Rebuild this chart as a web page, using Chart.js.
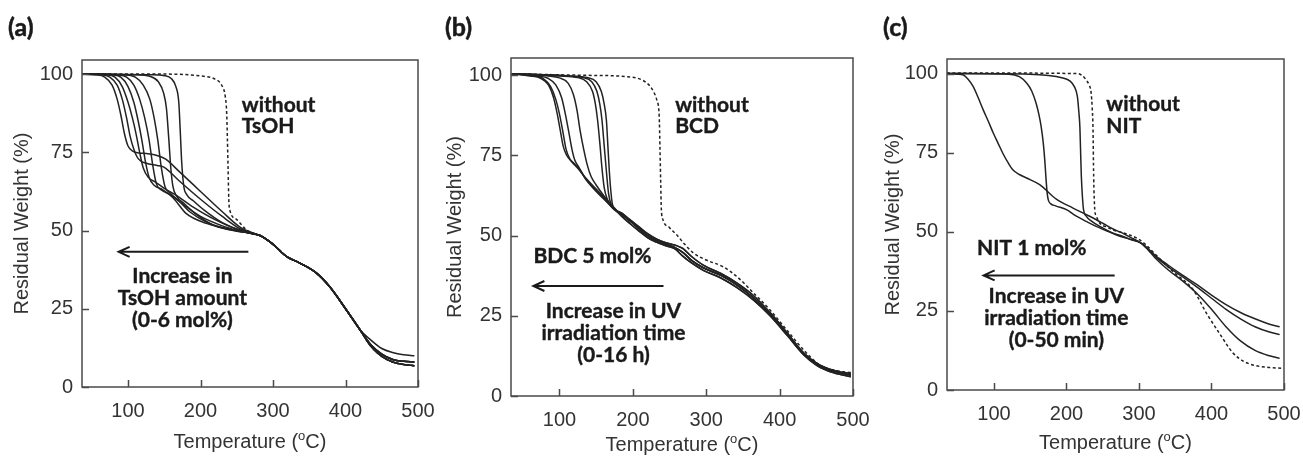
<!DOCTYPE html>
<html lang="en">
<head>
  <meta charset="UTF-8" />
  <title>TGA curves</title>
  <script src="https://cdn.jsdelivr.net/npm/chart.js@4.4.0/dist/chart.umd.min.js"></script>
  <style>
    body { margin: 0; background: #fff; }
    #wrap { position: relative; width: 1303px; height: 457px; overflow: hidden; }
    canvas { position: absolute; top: 0; }
  </style>
</head>
<body>
<div id="wrap">
  <canvas id="chartA" width="445" height="457" style="left:0"></canvas>
  <canvas id="chartB" width="445" height="457" style="left:430px"></canvas>
  <canvas id="chartC" width="437" height="457" style="left:866px"></canvas>
</div>

<script>
  // Achsen-Ticks
  const xTicks = [100, 200, 300, 400, 500];
  const yTicks = [0, 25, 50, 75, 100];

  // (a) TsOH 0-6 mol% : [Temperatur, Restgewicht]
  const a1 = [[35,100],[55,99.8],[68,99],[78,96.5],[85,92],[90,87],[95,81],[100,77],[107,75.3],[115,74.8],[125,74.6],[140,74],[152,72.8],[170,69],[200,62.5],[230,56],[255,51],[272,49.2]];
  const a2 = [[35,100],[62,99.8],[75,99],[85,96.5],[92,92],[98,86],[103,80],[108,76],[114,73],[125,71.5],[140,70.8],[150,70.2],[170,66],[200,60],[230,54.5],[255,50.5],[272,49.1]];
  const a3 = [[35,100],[70,99.8],[82,99],[92,96],[100,91],[106,86],[111,81],[116,75],[121,70],[128,67],[138,65.5],[150,63.5],[165,61.5],[190,57.5],[220,53.5],[250,50.5],[272,49.2]];
  const a4 = [[35,100],[78,99.8],[90,99],[100,96],[108,91],[114,85],[119,79],[124,72],[129,67],[136,64.5],[148,63],[162,60.5],[180,55.5],[208,52.3],[245,50.2],[272,49]];
  const a5 = [[35,100],[85,99.8],[98,99],[108,96.5],[116,92],[123,86],[129,79],[134,71],[139,65],[146,63],[158,61.5],[175,58.5],[200,54.5],[230,51.5],[255,49.8],[272,49]];
  const a6 = [[35,100],[95,99.8],[110,99],[121,96.5],[130,92],[136,86],[141,79],[146,70],[151,64],[158,62],[170,59.5],[185,56],[210,52.5],[240,50.3],[272,49]];
  const a7 = [[35,100],[110,99.8],[130,99.3],[142,97.5],[149,94],[153,89],[156,80],[159,70],[162,64],[167,61],[178,58.5],[195,55],[220,51.5],[250,49.8],[272,49]];
  const a8 = [[35,100],[130,99.8],[150,99.5],[160,98.5],[166,96],[170,91],[172,82],[174,72],[177,64],[181,61.5],[190,59.5],[205,56.5],[230,52.5],[255,50],[272,49]];
  const aNone = [[35,100],[150,100],[200,99.4],[220,98.4],[229,96.5],[234,93],[236,88],[237,80],[238,70],[239,60],[240.5,56.5],[250,53.5],[262,50.5],[272,49.2]];
  const aTail = [[282,48.4],[291,47.2],[298,46],[305,44.6],[312,43],[320,41.5],[337,39.6],[360,36.4],[378,32.1],[401,24.7],[420,18.3]];
  const aEndHi = [[435,15],[450,12.3],[465,11],[480,10.3],[495,10]];
  const aEndMid = [[435,13.5],[450,10.5],[465,8.8],[480,8.2],[495,8]];
  const aEndLo = [[435,13],[450,9.8],[465,8],[480,7.2],[495,6.8]];

  // (b) BDC 5 mol%, UV 0-16 h
  const b1 = [[35,100.5],[60,99.8],[75,99],[85,97],[92,93],[97,88],[101,83],[105,78],[110,75],[117,73],[125,71],[135,68.2],[146,65.5],[160,62.2],[175,58.6]];
  const b2 = [[35,100.5],[65,99.8],[78,99],[88,96.5],[95,92.5],[100,88],[105,82],[109,77],[114,74],[120,72.5],[127,70.8],[136,67.5],[146,64.8],[160,61.5],[175,58.2]];
  const b3 = [[35,100.5],[70,99.8],[85,99],[95,97],[103,93],[108,88],[113,82],[117,77],[121,73.5],[126,71.5],[135,68],[146,65],[160,61.8],[175,58]];
  const b4 = [[35,100.5],[85,99.8],[100,99.2],[112,97.5],[119,94],[124,89],[128,83],[133,77],[138,72],[143,68.5],[150,65.8],[162,62],[175,58.4]];
  const b5 = [[35,100.5],[100,99.8],[125,99.3],[137,98],[145,95],[149,91],[152,86],[155,79],[158,71],[161,65],[165,61.5],[170,59.6],[175,58.4]];
  const b6 = [[35,100.5],[110,99.8],[132,99.3],[144,98],[151,95],[155,91],[158,86],[161,78],[164,70],[167,63],[170,60],[175,58.3]];
  const b7 = [[35,100.5],[115,99.8],[138,99.3],[150,98],[157,95],[161,91],[164,86],[166,78],[168,70],[170,64],[172,60],[176,58.1]];
  const bNone = [[35,100.5],[137,100],[196,99.5],[219,97.6],[228,95],[233,92],[236,87],[237,77],[238,66.4],[238.8,58.5],[241,55],[250,52.5],[260,50.2],[270,47.5],[283,44.5],[300,42.4],[323,40.3],[342,37.2],[365,32],[387,26.8],[410,20.5],[433,14.3],[455,9.6],[475,8],[497,7.3]];
  const bTail = [[185,56.6],[196,54.6],[208,52.2],[220,50],[232,48.5],[245,47.3],[258,46.2],[268,44.8],[280,42.3],[296,40],[320,37.6],[342,34.6],[365,30.5],[387,25.5],[410,19.3],[433,13],[451,9.8],[474,7.6],[497,6.5]];
  const bTailLo = [[185,56],[196,53.8],[208,51.5],[220,49.4],[232,48],[245,46.8],[258,45.8],[268,43.6],[280,41.5],[296,39.2],[320,36.8],[342,33.8],[365,29.8],[387,25],[410,19],[433,12.8],[451,9.5],[474,7.2],[497,6]];
  const bTailHi = [[185,57],[196,55],[208,52.8],[220,50.6],[232,49],[245,47.8],[258,47],[268,46],[280,43.5],[296,40.8],[320,38.2],[342,35.2],[365,31.2],[387,26],[410,19.8],[433,13.4],[451,10.2],[474,8],[497,7]];

  // (c) NIT 1 mol%, UV 0-50 min
  const c1 = [[35,100],[50,99.8],[57,99.6],[64,98.3],[71,96],[78,92.5],[85,88.6],[92,85],[99,81.2],[106,77.8],[112,74.9],[119,72],[126,69.6],[135,68.1],[145,67],[163,64.9],[186,60.3],[209,57.5],[232,54.9],[250,52.7],[265,50.8],[278,49.5],[292,47.8],[302,46.6],[312,44.8],[322,42.6],[340,39.5],[360,36.3],[380,33.3],[400,30],[420,27],[440,24.5],[460,22.5],[480,20.8],[494,20]];
  const c2 = [[35,100],[121,99.8],[135,99],[145,97],[152,94.5],[158,90.7],[162,87],[165,83.3],[168,78],[170,72.8],[172,66],[173.5,62],[175,60],[178,58.9],[185,58.2],[200,57],[213,55],[228,53.2],[241,51.7],[255,50.3],[269,49],[288,47.6],[302,46.6],[312,44.7],[322,42.3],[340,39],[360,35.8],[380,32.5],[400,29],[420,25.5],[440,22.5],[460,20],[480,18.3],[494,17.5]];
  const c3 = [[35,100],[149,99.8],[195,98.6],[205,97.6],[211,95.8],[215,92.8],[217,88],[218.5,83],[219.5,75],[220.5,67.5],[222,61],[223.5,57],[227,55],[235,53.3],[246,51.7],[262,49.8],[278,48.5],[292,47.3],[302,46.5],[312,44.4],[322,41.8],[340,38],[360,34.5],[380,30.5],[400,25.5],[420,20],[440,15.5],[460,12.5],[480,10.8],[494,10]];
  const cNone = [[35,100.2],[215,100],[222,99.3],[227,98],[231,96.5],[234,93.9],[235.5,89],[236.5,83.3],[237.5,67.5],[239,57],[241,55],[246,52.7],[255,51.5],[264,50.6],[287,49],[300,47.6],[310,45.8],[322,43],[347,37.4],[375,31.6],[393,24.3],[411,17.9],[430,11.6],[445,9],[457,7.9],[475,7.2],[496,6.9]];

  const tickFont = { family: '"Liberation Sans", Arial, sans-serif', size: 20 };
  const noteFont = 'bold 21px Lato, "Open Sans", sans-serif';
  const axisColor = '#333';
  const lineColor = '#222';

  // Rahmen, Innen-Ticks, x-Titel, Beschriftungen
  const framePlugin = {
    id: 'frame',
    afterDraw(chart, args, opts) {
      const { ctx, chartArea: a, scales: { x, y } } = chart;
      ctx.save();
      ctx.strokeStyle = '#4a4a4a';
      ctx.lineWidth = 1.5;
      ctx.strokeRect(a.left, a.top, a.right - a.left, a.bottom - a.top);
      ctx.beginPath();
      xTicks.forEach(v => { const px = Math.round(x.getPixelForValue(v)) + 0.5; ctx.moveTo(px, a.bottom); ctx.lineTo(px, a.bottom - 7); });
      yTicks.forEach(v => { const py = Math.round(y.getPixelForValue(v)) + 0.5; ctx.moveTo(a.left, py); ctx.lineTo(a.left + 7, py); });
      ctx.stroke();

      // x-Titel mit hochgestelltem o
      ctx.fillStyle = axisColor;
      ctx.textBaseline = 'middle';
      ctx.textAlign = 'left';
      const big = '20px "Liberation Sans", Arial, sans-serif';
      const small = '13px "Liberation Sans", Arial, sans-serif';
      const p1 = 'Temperature (', p2 = 'o', p3 = 'C)';
      ctx.font = big;
      const w1 = ctx.measureText(p1).width, w3 = ctx.measureText(p3).width;
      ctx.font = small;
      const w2 = ctx.measureText(p2).width;
      let tx = (a.left + a.right) / 2 - (w1 + w2 + w3) / 2;
      const ty = opts.xTitleY;
      ctx.font = big; ctx.fillText(p1, tx, ty); tx += w1;
      ctx.font = small; ctx.fillText(p2, tx, ty - 6); tx += w2;
      ctx.font = big; ctx.fillText(p3, tx, ty);

      // Panel-Buchstabe
      ctx.fillStyle = '#1a1a1a';
      ctx.strokeStyle = '#1a1a1a';
      ctx.lineWidth = 0.5;
      ctx.font = 'bold 25px Lato, "Open Sans", sans-serif';
      ctx.fillText(opts.label, opts.labelX, 28);
      ctx.strokeText(opts.label, opts.labelX, 28);

      // Hinweise
      ctx.font = noteFont;
      ctx.textBaseline = 'alphabetic';
      ctx.lineWidth = 0.4;
      opts.notes.forEach(n => {
        ctx.textAlign = n.align;
        const nx = x.getPixelForValue(n.x), ny = y.getPixelForValue(n.y);
        ctx.fillText(n.text, nx, ny);
        ctx.strokeText(n.text, nx, ny);
      });

      // Pfeil
      const ar = opts.arrow;
      const x1 = x.getPixelForValue(ar.from), x2 = x.getPixelForValue(ar.to), ay = y.getPixelForValue(ar.y);
      ctx.lineWidth = 2;
      ctx.beginPath();
      ctx.moveTo(x1, ay); ctx.lineTo(x2, ay);
      ctx.moveTo(x2 + 11, ay - 5); ctx.lineTo(x2, ay); ctx.lineTo(x2 + 11, ay + 5);
      ctx.stroke();
      ctx.restore();
    }
  };

  function makeChart(id, series, cfg) {
    const datasets = series.map(s => ({
      data: s.pts.map(p => ({ x: p[0], y: p[1] })),
      showLine: true,
      pointRadius: 0,
      borderColor: lineColor,
      borderWidth: 1.5,
      borderDash: s.dashed ? [3, 2.5] : [],
      cubicInterpolationMode: 'monotone',
      fill: false
    }));
    new Chart(document.getElementById(id), {
      type: 'scatter',
      data: { datasets },
      plugins: [framePlugin],
      options: {
        responsive: false,
        animation: false,
        devicePixelRatio: 1,
        layout: { padding: { top: cfg.top, right: cfg.right, left: 0, bottom: 0 } },
        plugins: {
          legend: { display: false },
          tooltip: { enabled: false },
          frame: cfg.frame
        },
        scales: {
          x: {
            type: 'linear',
            min: cfg.xMin, max: 500,
            afterBuildTicks: s => { s.ticks = xTicks.map(v => ({ value: v })); },
            afterFit: s => { s.height = cfg.xH; s.paddingLeft = 0; s.paddingRight = 0; },
            grid: { display: false, drawTicks: false },
            border: { display: false },
            ticks: { padding: 12, font: tickFont, color: axisColor, maxRotation: 0, autoSkip: false }
          },
          y: {
            min: 0, max: cfg.yMax,
            afterBuildTicks: s => { s.ticks = yTicks.map(v => ({ value: v })); },
            afterFit: s => { s.width = cfg.yW; s.paddingTop = 0; s.paddingBottom = 0; },
            grid: { display: false, drawTicks: false },
            border: { display: false },
            ticks: { padding: 9, font: tickFont, color: axisColor },
            title: { display: true, text: 'Residual Weight (%)', font: tickFont, color: axisColor, padding: { top: cfg.yTitlePad, bottom: 0 } }
          }
        }
      }
    });
  }

  const aTailed = (head, end) => head.concat(aTail, end);

  makeChart('chartA', [
    { pts: aTailed(a1, aEndHi) }, { pts: aTailed(a2, aEndMid) }, { pts: aTailed(a3, aEndLo) },
    { pts: aTailed(a4, aEndMid) }, { pts: aTailed(a5, aEndLo) }, { pts: aTailed(a6, aEndMid) },
    { pts: aTailed(a7, aEndLo) }, { pts: aTailed(a8, aEndMid) },
    { pts: aTailed(aNone, aEndLo), dashed: true }
  ], {
    top: 60, right: 27, xH: 70, yW: 82, yTitlePad: 10, xMin: 36.5, yMax: 104.5,
    frame: {
      label: '(a)', labelX: 8, xTitleY: 442,
      notes: [
        { text: 'without', x: 257, y: 87.9, align: 'left' },
        { text: 'TsOH', x: 257, y: 81.2, align: 'left' },
        { text: 'Increase in', x: 175, y: 33.3, align: 'center' },
        { text: 'TsOH amount', x: 175, y: 26.3, align: 'center' },
        { text: '(0-6 mol%)', x: 175, y: 19.3, align: 'center' }
      ],
      arrow: { from: 266, to: 87, y: 43.2 }
    }
  });

  makeChart('chartB', [
    { pts: b1.concat(bTailLo) }, { pts: b2.concat(bTailLo) }, { pts: b3.concat(bTail) },
    { pts: b4.concat(bTail) }, { pts: b5.concat(bTail) }, { pts: b6.concat(bTailHi) },
    { pts: b7.concat(bTailHi) },
    { pts: bNone, dashed: true }
  ], {
    top: 58, right: 22, xH: 61, yW: 81, yTitlePad: 13, xMin: 34, yMax: 105.4,
    frame: {
      label: '(b)', labelX: 15, xTitleY: 445,
      notes: [
        { text: 'without', x: 257.7, y: 88.7, align: 'left' },
        { text: 'BCD', x: 257.7, y: 82, align: 'left' },
        { text: 'BDC 5 mol%', x: 64.5, y: 41.4, align: 'left' },
        { text: 'Increase in UV', x: 173.6, y: 24.4, align: 'center' },
        { text: 'irradiation time', x: 173.6, y: 17.6, align: 'center' },
        { text: '(0-16 h)', x: 173.6, y: 10.6, align: 'center' }
      ],
      arrow: { from: 241.8, to: 64.5, y: 34.3 }
    }
  });

  makeChart('chartC', [
    { pts: c1 }, { pts: c2 }, { pts: c3 },
    { pts: cNone, dashed: true }
  ], {
    top: 59, right: 19, xH: 67, yW: 81, yTitlePad: 15, xMin: 35.2, yMax: 104.6,
    frame: {
      label: '(c)', labelX: 17, xTitleY: 443,
      notes: [
        { text: 'without', x: 255, y: 88.1, align: 'left' },
        { text: 'NIT', x: 255, y: 81.2, align: 'left' },
        { text: 'NIT 1 mol%', x: 76.6, y: 42.7, align: 'left' },
        { text: 'Increase in UV', x: 186, y: 27.4, align: 'center' },
        { text: 'irradiation time', x: 186, y: 20.6, align: 'center' },
        { text: '(0-50 min)', x: 186, y: 13.7, align: 'center' }
      ],
      arrow: { from: 266.4, to: 85.7, y: 36.2 }
    }
  });
</script>
</body>
</html>
